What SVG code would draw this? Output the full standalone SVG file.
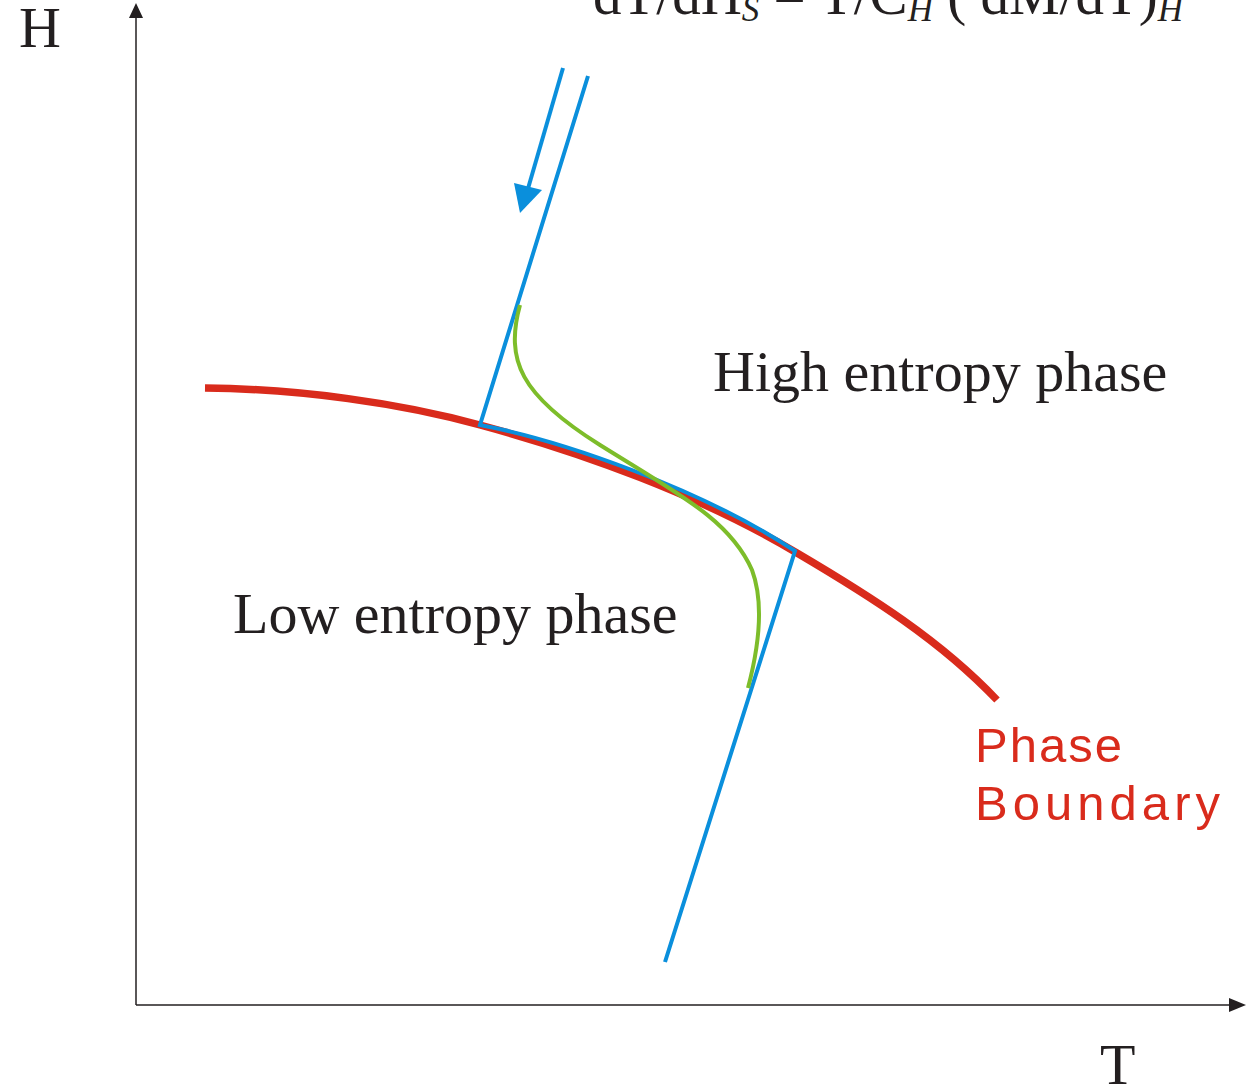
<svg xmlns="http://www.w3.org/2000/svg" width="1248" height="1091" viewBox="0 0 1248 1091">
<defs>
<style>
.serif{font-family:"Liberation Serif","Times New Roman",serif;fill:#231f20}
.lbl{font-size:58px}
.eq{font-size:57px}
.sub{font-size:35px;font-style:italic}
.red{fill:none;stroke:#d92b1c;stroke-width:7.5}
.blue{fill:none;stroke:#0a8fdc;stroke-width:4}
.green{fill:none;stroke:#7dbd2a;stroke-width:4}
.axis{fill:none;stroke:#231f20;stroke-width:1.5}
.pb{font-family:"Liberation Sans",Arial,sans-serif;font-size:49px;fill:#d92b1c}
</style>
</defs>
<rect width="1248" height="1091" fill="#ffffff"/>
<g id="axes">
<line class="axis" x1="136" y1="1005" x2="136" y2="14"/>
<polygon points="136,3 129,18 143,18" fill="#231f20"/>
<line class="axis" x1="136" y1="1005" x2="1232" y2="1005"/>
<polygon points="1246,1005 1229,998 1229,1012" fill="#231f20"/>
<text class="serif lbl" x="19" y="47">H</text>
<text class="serif lbl" x="1100" y="1084">T</text>
</g>
<g id="equation">
<text class="serif eq" x="593" y="14">dT/dH<tspan class="sub" y="21">S</tspan><tspan y="14"> = T/C</tspan><tspan class="sub" y="21">H</tspan><tspan y="14"> ( dM/dT)</tspan><tspan class="sub" y="21">H</tspan></text>
</g>
<g id="phase-boundary">
<path class="red" d="M205,388 C300,389 400,403 480,425 C580,452 700,495 797,553 C870,596 940,640 997,700"/>
<text class="pb" x="975" y="762" textLength="147" lengthAdjust="spacing">Phase</text>
<text class="pb" x="975" y="820" textLength="245" lengthAdjust="spacing">Boundary</text>
</g>
<g id="connectors">
<path class="blue" d="M588,76 L480,425 C560,440 700,488 795,551 L665,962"/>
<line class="blue" x1="563" y1="68" x2="527" y2="192"/>
<polygon points="520,213 514,183 542,190" fill="#0a8fdc"/>
<path class="green" d="M520,305 C505,360 520,395 600,445 C680,495 730,520 752,570 C765,605 758,650 748,688"/>
</g>
<g id="high-entropy">
<text class="serif lbl" x="713" y="391">High entropy phase</text>
</g>
<g id="low-entropy">
<text class="serif lbl" x="233" y="633">Low entropy phase</text>
</g>
</svg>
